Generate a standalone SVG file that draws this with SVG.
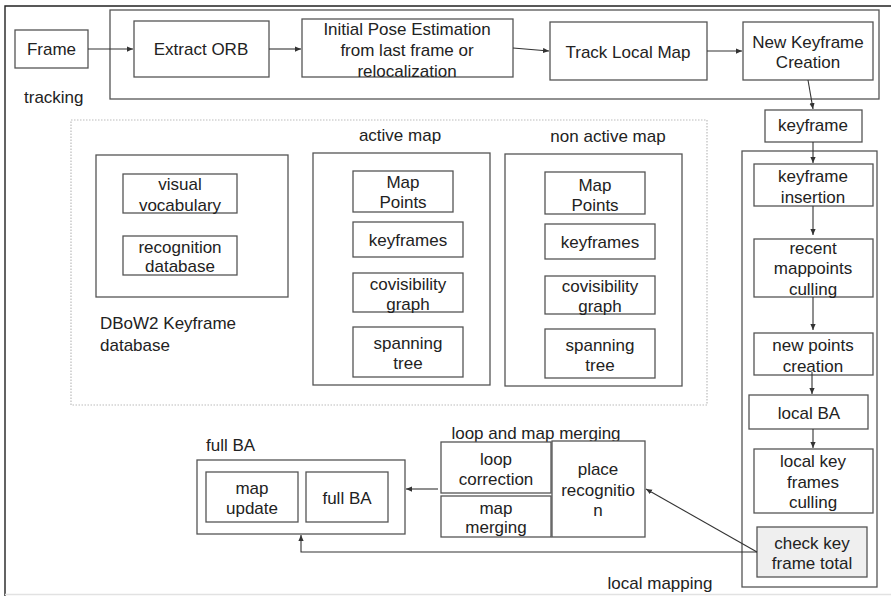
<svg xmlns="http://www.w3.org/2000/svg" width="891" height="596" viewBox="0 0 891 596">
<defs>
<marker id="ah" viewBox="0 0 8 8" refX="8" refY="4" markerWidth="6" markerHeight="6" orient="auto" markerUnits="userSpaceOnUse">
<path d="M0,0.5 L8,4 L0,7.5 z" fill="#333"/>
</marker>
</defs>
<style>
.b{fill:#fff;stroke:#555;stroke-width:1.3}
.c{fill:none;stroke:#555;stroke-width:1.3}
.d{fill:none;stroke:#bbb;stroke-width:1.2;stroke-dasharray:1.5 1.5}
text{font-family:"Liberation Sans",Arial,sans-serif;font-size:17px;fill:#222}
.m{text-anchor:middle}
.e{fill:none;stroke:#333;stroke-width:1.1;marker-end:url(#ah)}
</style>
<rect width="891" height="596" fill="#fff"/>
<g id="border">
<path d="M5,596 V6 H891" fill="none" stroke="#222" stroke-width="1.4"/>
<line x1="5" y1="594.5" x2="891" y2="594.5" stroke="#e2e2e2" stroke-width="1.5"/>
</g>
<g id="tracking">
<rect class="c" x="110" y="10" width="769" height="89"/>
<text x="24" y="103">tracking</text>
</g>
<g id="frame"><rect class="b" x="15" y="30" width="73" height="38"/><text class="m" x="51.5" y="55">Frame</text></g>
<g id="extract-orb"><rect class="b" x="134" y="21" width="135" height="56"/><text class="m" x="201" y="55">Extract ORB</text></g>
<g id="initial-pose"><rect class="b" x="302" y="19" width="211" height="58"/><text class="m" x="407" y="35">Initial Pose Estimation</text><text class="m" x="407" y="56">from last frame or</text><text class="m" x="407" y="77">relocalization</text></g>
<g id="track-local-map"><rect class="b" x="550" y="22" width="157" height="58"/><text class="m" x="628" y="58">Track Local Map</text></g>
<g id="new-keyframe"><rect class="b" x="743" y="22" width="130" height="58"/><text class="m" x="808" y="48">New Keyframe</text><text class="m" x="808" y="68">Creation</text></g>
<g id="keyframe"><rect class="b" x="765" y="110" width="97" height="32"/><text class="m" x="813" y="131">keyframe</text></g>

<g id="map-area">
<rect class="d" x="71" y="120" width="636" height="285"/>
</g>
<g id="dbow2">
<rect class="b" x="96" y="155" width="192" height="142"/>
<text x="100" y="329">DBoW2 Keyframe</text><text x="100" y="351">database</text>
</g>
<g id="visual-vocabulary"><rect class="b" x="123" y="174" width="114" height="39"/><text class="m" x="180" y="190">visual</text><text class="m" x="180" y="211">vocabulary</text></g>
<g id="recognition-database"><rect class="b" x="123" y="236" width="114" height="39"/><text class="m" x="180" y="253">recognition</text><text class="m" x="180" y="272">database</text></g>

<g id="active-map">
<rect class="b" x="313" y="153" width="177" height="232"/>
<text class="m" x="400" y="141">active map</text>
</g>
<g id="am-map-points"><rect class="b" x="353" y="171" width="100" height="41"/><text class="m" x="403" y="188">Map</text><text class="m" x="403" y="208">Points</text></g>
<g id="am-keyframes"><rect class="b" x="353" y="222" width="110" height="35"/><text class="m" x="408" y="246">keyframes</text></g>
<g id="am-covisibility"><rect class="b" x="353" y="273" width="110" height="39"/><text class="m" x="408" y="290">covisibility</text><text class="m" x="408" y="310">graph</text></g>
<g id="am-spanning"><rect class="b" x="353" y="327" width="110" height="50"/><text class="m" x="408" y="349">spanning</text><text class="m" x="408" y="369">tree</text></g>

<g id="non-active-map">
<rect class="b" x="505" y="154" width="177" height="232"/>
<text class="m" x="608" y="142">non active map</text>
</g>
<g id="nam-map-points"><rect class="b" x="545" y="172" width="100" height="42"/><text class="m" x="595" y="191">Map</text><text class="m" x="595" y="211">Points</text></g>
<g id="nam-keyframes"><rect class="b" x="545" y="224" width="110" height="35"/><text class="m" x="600" y="248">keyframes</text></g>
<g id="nam-covisibility"><rect class="b" x="545" y="276" width="110" height="38"/><text class="m" x="600" y="292">covisibility</text><text class="m" x="600" y="312">graph</text></g>
<g id="nam-spanning"><rect class="b" x="545" y="329" width="110" height="49"/><text class="m" x="600" y="351">spanning</text><text class="m" x="600" y="371">tree</text></g>

<g id="local-mapping">
<rect class="c" x="742" y="151" width="135" height="436"/>
<text class="m" x="660" y="589">local mapping</text>
</g>
<g id="keyframe-insertion"><rect class="b" x="754" y="164" width="119" height="42"/><text class="m" x="813" y="182">keyframe</text><text class="m" x="813" y="203">insertion</text></g>
<g id="recent-mappoints"><rect class="b" x="754" y="239" width="119" height="58"/><text class="m" x="813" y="254">recent</text><text class="m" x="813" y="274">mappoints</text><text class="m" x="813" y="295">culling</text></g>
<g id="new-points"><rect class="b" x="754" y="333" width="119" height="42"/><text class="m" x="813" y="351">new points</text><text class="m" x="813" y="372">creation</text></g>
<g id="local-ba"><rect class="b" x="749" y="395" width="119" height="34"/><text class="m" x="809" y="419">local BA</text></g>
<g id="local-kf-culling"><rect class="b" x="754" y="449" width="119" height="64"/><text class="m" x="813" y="467">local key</text><text class="m" x="813" y="488">frames</text><text class="m" x="813" y="508">culling</text></g>
<g id="check-kf-total"><rect x="757" y="527" width="110" height="50" fill="#efefef" stroke="#555" stroke-width="1.3"/><text class="m" x="812" y="549">check key</text><text class="m" x="812" y="569">frame total</text></g>

<g id="full-ba-group">
<rect class="b" x="197" y="460" width="208" height="74"/>
<text x="206" y="451">full BA</text>
</g>
<g id="map-update"><rect class="b" x="206" y="472" width="92" height="50"/><text class="m" x="252" y="494">map</text><text class="m" x="252" y="514">update</text></g>
<g id="full-ba"><rect class="b" x="306" y="472" width="82" height="50"/><text class="m" x="347" y="504">full BA</text></g>

<g id="loop-map-merging"><text class="m" x="536" y="439">loop and map merging</text></g>
<g id="loop-correction"><rect class="b" x="441" y="442" width="110" height="51"/><text class="m" x="496" y="465">loop</text><text class="m" x="496" y="485">correction</text></g>
<g id="map-merging"><rect class="b" x="441" y="496" width="110" height="41"/><text class="m" x="496" y="514">map</text><text class="m" x="496" y="533">merging</text></g>
<g id="place-recognition"><rect class="b" x="552" y="441" width="93" height="96"/><text class="m" x="598" y="475">place</text><text class="m" x="598" y="496">recognitio</text><text class="m" x="598" y="516">n</text></g>

<g id="connectors">
<line class="e" x1="88" y1="49" x2="133" y2="49"/>
<line class="e" x1="269" y1="49" x2="301" y2="49"/>
<line class="e" x1="513" y1="48" x2="549" y2="51"/>
<line class="e" x1="707" y1="51" x2="742" y2="51"/>
<line class="e" x1="808" y1="80" x2="813" y2="109"/>
<line class="e" x1="813" y1="142" x2="813" y2="163"/>
<line class="e" x1="813" y1="206" x2="813" y2="235"/>
<line class="e" x1="813" y1="297" x2="813" y2="330"/>
<line class="e" x1="812" y1="372" x2="812" y2="394"/>
<line class="e" x1="813" y1="429" x2="813" y2="448"/>
<line class="e" x1="757" y1="552" x2="646" y2="489"/>
<polyline class="e" points="757,552 301,552 301,535"/>
<line class="e" x1="438" y1="489" x2="406" y2="489"/>
</g>
</svg>
